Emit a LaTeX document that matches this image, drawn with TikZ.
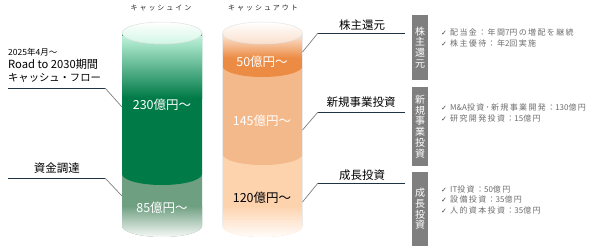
\documentclass[tikz,border=0pt]{standalone}
\usepackage{fontspec}
\setmainfont{Noto Sans CJK JP}
\newfontfamily\djv{DejaVu Sans}
\newfontfamily\hdrfont[LetterSpace=28]{Noto Sans CJK JP}
\newfontfamily\bulfont[LetterSpace=17]{Noto Sans CJK JP}
\newfontfamily\bulplain{Noto Sans CJK JP}
\definecolor{gA}{HTML}{007A47}
\definecolor{gAtop}{HTML}{BDF2DA}
\definecolor{gB}{HTML}{6F9F81}
\definecolor{oA}{HTML}{EC8B43}
\definecolor{oAtop}{HTML}{FADFCB}
\definecolor{oB}{HTML}{F4B98A}
\definecolor{oC}{HTML}{FDD3AE}
\definecolor{hl}{HTML}{1E3344}
\definecolor{dl}{HTML}{808080}
\definecolor{boxgray}{HTML}{7F7F7F}
\definecolor{bultext}{HTML}{6E6E6E}
\tikzset{
  lbl/.style={inner sep=0pt, font=\fontsize{12.5}{14}\selectfont},
  caplbl/.style={inner sep=0pt, font=\fontsize{11.5}{13}\selectfont},
  hdr/.style={inner sep=0pt, font=\hdrfont\fontsize{7}{8}\selectfont, text=black!85},
  hline/.style={draw=hl, line width=0.9pt},
  dline/.style={draw=dl, line width=0.7pt},
  gbox/.style={fill=boxgray, text=white, inner sep=0pt, minimum width=16pt, align=center,
    font=\fontsize{10}{10.7}\selectfont},
  bul/.style={inner sep=0pt, anchor=west, text=bultext, font=\bulfont\fontsize{8}{9}\selectfont},
}
\newcommand{\ck}{{\djv\color{black!75}\fontsize{7}{8}\selectfont ✓}\ }
\newcommand{\lt}[1]{{\bulplain #1}}
\begin{document}
\begin{tikzpicture}[x=1pt,y=-1pt]
\useasboundingbox (0,0) rectangle (616,247);
\fill[white] (0,0) rectangle (616,247);

% ---------- green cylinder ----------
\fill[gB] (122,174) -- (122,226) arc[start angle=180,end angle=360,x radius=40pt,y radius=11pt] -- (202,174) -- cycle;
\begin{scope}
\clip (122,174) -- (122,226) arc[start angle=180,end angle=360,x radius=40pt,y radius=11pt] -- (202,174) -- cycle;
\shade[top color=gB, bottom color=white] (121,206) rectangle (203,239);
\end{scope}
\fill[gA] (122,33) -- (122,174) arc[start angle=180,end angle=360,x radius=40pt,y radius=11pt] -- (202,33) -- cycle;
\begin{scope}
\clip (122,33) -- (122,174) arc[start angle=180,end angle=360,x radius=40pt,y radius=11pt] -- (202,33) -- cycle;
\shade[top color=gAtop, bottom color=gA] (121,36) rectangle (203,98);
\end{scope}
\shade[top color=white, bottom color=gAtop!70] (162,33) ellipse[x radius=40pt, y radius=11pt];
\draw[black!12, line width=0.5pt] (162,33) ellipse[x radius=40pt, y radius=11pt];

% ---------- orange cylinder ----------
\fill[oC] (222.5,154) -- (222.5,226) arc[start angle=180,end angle=360,x radius=40pt,y radius=11pt] -- (302.5,154) -- cycle;
\begin{scope}
\clip (222.5,154) -- (222.5,226) arc[start angle=180,end angle=360,x radius=40pt,y radius=11pt] -- (302.5,154) -- cycle;
\shade[top color=oC, bottom color=white] (221,206) rectangle (304,239);
\end{scope}
\fill[oB] (222.5,66) -- (222.5,154) arc[start angle=180,end angle=360,x radius=40pt,y radius=11pt] -- (302.5,66) -- cycle;
\fill[oA] (222.5,33) -- (222.5,66) arc[start angle=180,end angle=360,x radius=40pt,y radius=11pt] -- (302.5,33) -- cycle;
\begin{scope}
\clip (222.5,33) -- (222.5,66) arc[start angle=180,end angle=360,x radius=40pt,y radius=11pt] -- (302.5,33) -- cycle;
\shade[top color=oAtop, bottom color=oA] (221,36) rectangle (304,58);
\end{scope}
\shade[top color=white, bottom color=oAtop] (262.5,33) ellipse[x radius=40pt, y radius=11pt];
\draw[black!10, line width=0.5pt] (262.5,33) ellipse[x radius=40pt, y radius=11pt];
\draw[black!8, line width=0.5pt] (222.5,33) -- (222.5,226);
\draw[black!8, line width=0.5pt] (302.5,33) -- (302.5,226);

% ---------- headers ----------
\node[hdr] (hin) at (161,8) {キャッシュイン};
\node[hdr] (hout) at (263,8) {キャッシュアウト};

% ---------- cylinder values ----------
\node[lbl, text=white] (v230) at (162,105) {230億円～};
\node[lbl, text=white] (v85) at (162,208) {85億円～};
\node[lbl, text=white] (v50) at (262,62) {50億円～};
\node[lbl, text=white] (v145) at (262,121) {145億円～};
\node[lbl, text=black] (v120) at (262,198) {120億円～};

% ---------- left labels ----------
\node[inner sep=0pt, anchor=west, font=\fontsize{8.5}{9}\selectfont] (t2025) at (8,52) {2025年4月～};
\node[inner sep=0pt, anchor=west, font=\fontsize{11.2}{12}\selectfont] (troad) at (8,64.5) {Road to 2030期間};
\node[inner sep=0pt, anchor=west, font=\fontsize{10.3}{12}\selectfont] (tcf) at (8,77.5) {キャッシュ・フロー};
\coordinate (l1a) at (8,88);
\coordinate (l1b) at (105,88);
\coordinate (l1c) at (122,107);
\draw[hline] (l1a) -- (l1b);
\draw[dline] (l1b) -- (l1c);

\node[caplbl] (tshikin) at (57,168) {資金調達};
\coordinate (l2a) at (8,178);
\coordinate (l2b) at (105,178);
\coordinate (l2c) at (122,196);
\draw[hline] (l2a) -- (l2b);
\draw[dline] (l2b) -- (l2c);

% ---------- right labels ----------
\node[caplbl] (tkabu) at (362,25) {株主還元};
\coordinate (r1a) at (405,33);
\coordinate (r1b) at (318,33);
\coordinate (r1c) at (302.5,52);
\draw[hline] (r1a) -- (r1b);
\draw[dline] (r1b) -- (r1c);

\node[caplbl] (tshin) at (361,102) {新規事業投資};
\coordinate (r2a) at (405,112);
\coordinate (r2b) at (318,112);
\coordinate (r2c) at (302.5,130);
\draw[hline] (r2a) -- (r2b);
\draw[dline] (r2b) -- (r2c);

\node[caplbl] (tsei) at (362,175) {成長投資};
\coordinate (r3a) at (405,183);
\coordinate (r3b) at (318,183);
\coordinate (r3c) at (302.5,202);
\draw[hline] (r3a) -- (r3b);
\draw[dline] (r3b) -- (r3c);

% ---------- gray boxes ----------
\node[gbox, minimum height=65pt] (b1) at (420,47.5) {株\\主\\還\\元};
\node[gbox, minimum height=79pt] (b2) at (420,126.5) {新\\規\\事\\業\\投\\資};
\node[gbox, minimum height=74pt] (b3) at (420,209) {成\\長\\投\\資};

% ---------- bullets ----------
\node[bul] (p11) at (441,32) {\ck 配当金：年間\lt{7}円の増配を継続};
\node[bul] (p12) at (441,43) {\ck 株主優待：年\lt{2}回実施};
\node[bul] (p21) at (441,107) {\ck \lt{M\&A}投資･新規事業開発：\lt{130}億円};
\node[bul] (p22) at (441,118) {\ck 研究開発投資：\lt{15}億円};
\node[bul] (p31) at (441,189) {\ck \lt{IT}投資：\lt{50}億円};
\node[bul] (p32) at (441,199.5) {\ck 設備投資：\lt{35}億円};
\node[bul] (p33) at (441,210) {\ck 人的資本投資：\lt{35}億円};
\end{tikzpicture}
\end{document}
